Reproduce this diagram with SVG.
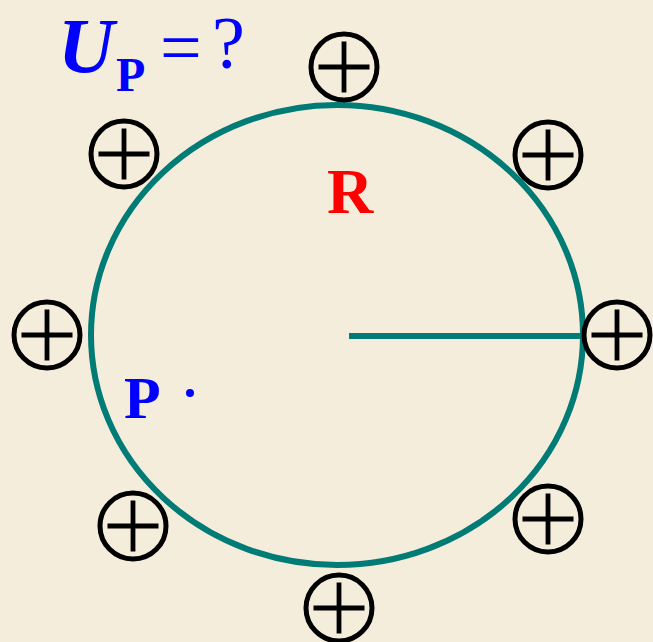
<svg xmlns="http://www.w3.org/2000/svg" width="653" height="642" viewBox="0 0 653 642">
<defs>
<style>
.ring{fill:none;stroke:#000;stroke-width:5}
.arm{stroke:#000;stroke-width:4.8}
.teal{fill:none;stroke:#007b76;stroke-width:6}
.serif{font-family:"Liberation Serif","Times New Roman",serif}
</style>
<g id="plus">
<circle class="ring" cx="0" cy="0" r="33"/>
<line class="arm" x1="-25.5" y1="0" x2="25.5" y2="0"/>
<line class="arm" x1="0" y1="-25.5" x2="0" y2="25.5"/>
</g>
</defs>
<rect width="653" height="642" fill="#f5eddb"/>
<g id="connectors">
<ellipse class="teal" cx="337" cy="335" rx="246" ry="230"/>
<line class="teal" x1="349" y1="336" x2="584" y2="336"/>
</g>
<g id="charge-top"><use href="#plus" x="344" y="67"/></g>
<g id="charge-top-left"><use href="#plus" x="124" y="154"/></g>
<g id="charge-top-right"><use href="#plus" x="548" y="155"/></g>
<g id="charge-left"><use href="#plus" x="47" y="335"/></g>
<g id="charge-right"><use href="#plus" x="617" y="335"/></g>
<g id="charge-bottom-left"><use href="#plus" x="133" y="526"/></g>
<g id="charge-bottom-right"><use href="#plus" x="548" y="519"/></g>
<g id="charge-bottom"><use href="#plus" x="339" y="608"/></g>
<g id="label-R"><text class="serif" x="327" y="213" font-size="64" font-weight="bold" fill="#ff0000">R</text></g>
<g id="point-P">
<text class="serif" x="124" y="418" font-size="60" font-weight="bold" fill="#0000ff">P</text>
<circle cx="190" cy="393" r="4" fill="#0000ff"/>
</g>
<g id="title" fill="#0000ff">
<text class="serif" x="58" y="72" font-size="78" font-weight="bold" font-style="italic">U</text>
<text class="serif" x="116" y="91" font-size="48" font-weight="bold">P</text>
<text class="serif" x="160" y="72" font-size="74">=</text>
<text class="serif" x="212" y="68" font-size="74">?</text>
</g>
</svg>
